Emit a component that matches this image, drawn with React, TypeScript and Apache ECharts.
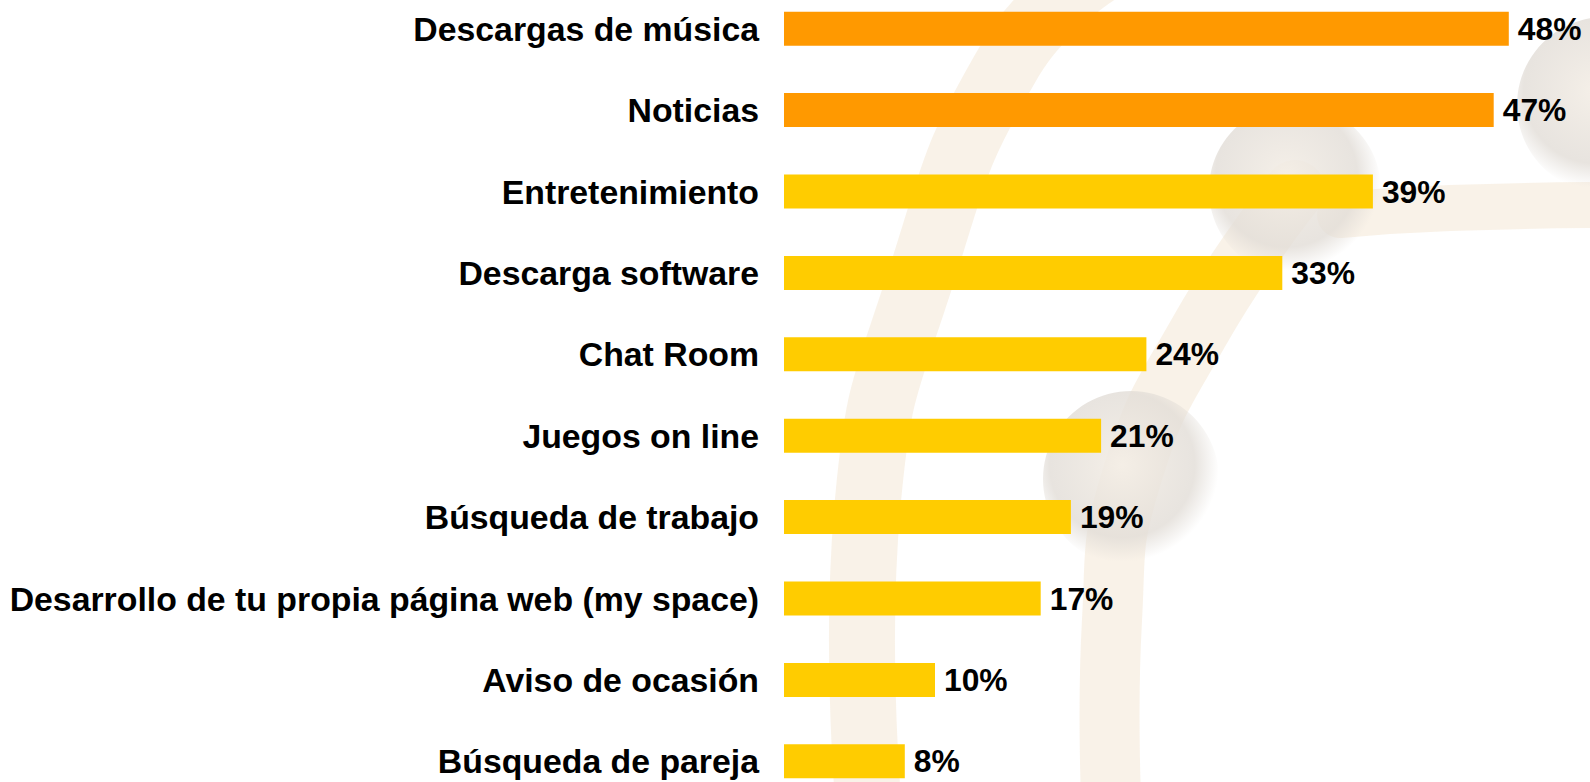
import React, { useEffect, useRef } from "react";
import * as echarts from "echarts";

const categories: string[] = [
  "Descargas de música",
  "Noticias",
  "Entretenimiento",
  "Descarga software",
  "Chat Room",
  "Juegos on line",
  "Búsqueda de trabajo",
  "Desarrollo de tu propia página web (my space)",
  "Aviso de ocasión",
  "Búsqueda de pareja",
];

const values: number[] = [48, 47, 39, 33, 24, 21, 19, 17, 10, 8];

const highlightCount = 2;
const orange = "#FF9900";
const yellow = "#FFCC00";

const FONT = "'Liberation Sans', Arial, Helvetica, sans-serif";
const OFF = 12; // chart canvas is shifted up by this many px

function sphere(cx: number, cy: number, r: number) {
  return {
    type: "circle",
    z: -10,
    silent: true,
    shape: { cx, cy: cy + OFF, r },
    style: {
      fill: {
        type: "radial",
        x: 0.45,
        y: 0.42,
        r: 0.55,
        colorStops: [
          { offset: 0, color: "rgba(244,238,230,0.9)" },
          { offset: 0.75, color: "rgba(226,221,215,0.8)" },
          { offset: 1, color: "rgba(226,221,215,0)" },
        ],
      },
    },
  };
}

function band(points: number[][], width: number) {
  return {
    type: "polyline",
    z: -20,
    silent: true,
    shape: { points: points.map((p) => [p[0], p[1] + OFF]), smooth: 0.5 },
    style: {
      stroke: "rgba(245,233,216,0.6)",
      lineWidth: width,
      fill: null,
      lineCap: "round",
    },
  };
}

export default function App() {
  const ref = useRef<HTMLDivElement>(null);

  useEffect(() => {
    if (!ref.current) return;
    const chart = echarts.init(ref.current, undefined, { renderer: "svg" });
    chart.setOption({
      animation: false,
      backgroundColor: "#ffffff",
      graphic: [
        band([[1100, -30], [1010, 60], [920, 280], [868, 500], [870, 820]], 66),
        band([[1295, 190], [1200, 330], [1131, 479], [1112, 620], [1112, 820]], 60),
        band([[1340, 215], [1450, 208], [1620, 205]], 46),
        sphere(1295, 190, 86),
        sphere(1131, 479, 88),
        sphere(1605, 105, 88),
      ],
      grid: {
        left: 784,
        width: 755,
        top: 0,
        height: 814,
        containLabel: false,
      },
      xAxis: {
        type: "value",
        min: 0,
        max: 50,
        show: false,
      },
      yAxis: {
        type: "category",
        inverse: true,
        data: categories,
        axisLine: { show: false },
        axisTick: { show: false },
        splitLine: { show: false },
        axisLabel: {
          margin: 25,
          color: "#000000",
          fontSize: 33.8,
          fontWeight: "bold",
          fontFamily: FONT,
        },
      },
      series: [
        {
          type: "bar",
          barWidth: 34,
          data: values.map((v, i) => ({
            value: v,
            itemStyle: { color: i < highlightCount ? orange : yellow },
          })),
          label: {
            show: true,
            position: "right",
            distance: 9,
            formatter: "{c}%",
            color: "#000000",
            fontSize: 31.8,
            fontWeight: "bold",
            fontFamily: FONT,
          },
        },
      ],
    });
    return () => chart.dispose();
  }, []);

  return (
    <div
      style={{
        position: "absolute",
        left: 0,
        top: 0,
        width: 1590,
        height: 782,
        overflow: "hidden",
        background: "#ffffff",
      }}
    >
      <div
        ref={ref}
        style={{ position: "absolute", left: 0, top: -OFF, width: 1590, height: 782 + 2 * OFF + 8 }}
      />
    </div>
  );
}
